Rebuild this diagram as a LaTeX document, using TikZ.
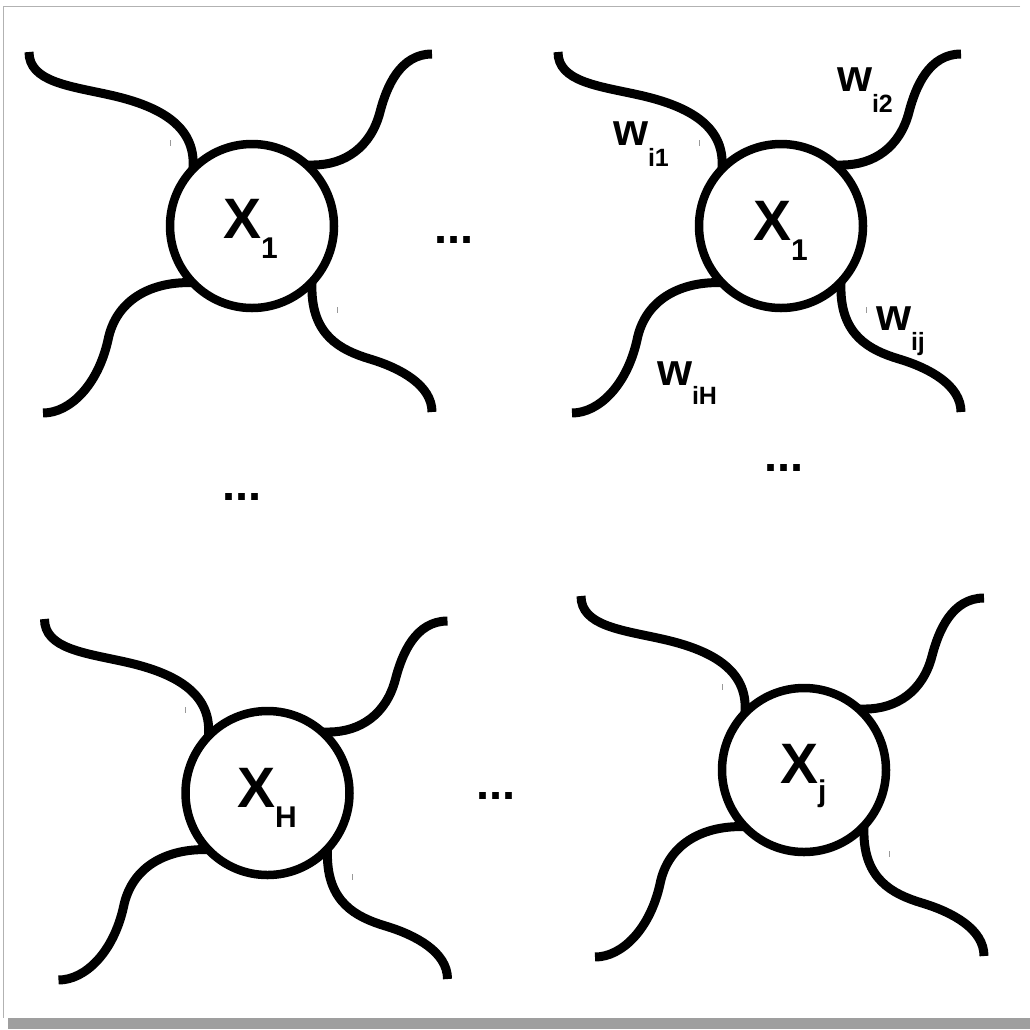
\documentclass[tikz,border=0pt]{standalone}
\usepackage{fontspec}
\setmainfont{Liberation Sans}
\usetikzlibrary{backgrounds}
\begin{document}
\begin{tikzpicture}[x=1pt,y=-1pt,
  wire/.style={line width=9pt},
  unit/.style={circle,draw,line width=8.5pt,fill=white,minimum size=164pt,inner sep=0pt},
  tickmark/.style={line width=1pt,draw=gray!80},
  lbl/.style={anchor=base west,inner sep=0pt,outer sep=0pt},
  big/.style={lbl,font=\bfseries\fontsize{57}{57}\selectfont},
  wt/.style={lbl,font=\bfseries\fontsize{45}{45}\selectfont},
  dots/.style={lbl,font=\bfseries\fontsize{47}{47}\selectfont},
]
\useasboundingbox (0,0) rectangle (1030,1029);
\begin{pgfonlayer}{background}
  \fill[white] (0,0) rectangle (1030,1029);
\end{pgfonlayer}
% frame with drop shadow
\fill[gray!75] (8,1018) rectangle (1030,1029);
\draw[gray!60,line width=1pt] (1020,6.5) -- (3.5,6.5) -- (3.5,1018);

% four units, each with four weighted connections
\foreach \n/\cx/\cy in {m1/252/226, m2/781/226, m3/267.5/793, m4/804/770} {
  \begin{scope}[shift={(\cx,\cy)}]
    \node[unit] (\n) at (0,0) {};
    \begin{pgfonlayer}{background}
      \draw[wire] ([yshift=-8pt]\n.133) -- (\n.133)
        .. controls (-59,-103) and (-97,-121) .. (-142,-131)
        .. controls (-182,-140) and (-223,-144) .. (-223,-174);
      \draw[wire] ([xshift=-8pt]\n.45) -- (\n.45)
        .. controls (93,-61) and (119,-79) .. (128,-114)
        .. controls (134.5,-139) and (148,-172) .. (180,-172);
      \draw[wire] ([xshift=8pt]\n.221) -- (\n.221)
        .. controls (-102,57) and (-136,74) .. (-144,114)
        .. controls (-154,159) and (-182,187) .. (-209,187);
      \draw[wire] ([yshift=8pt]\n.314) -- (\n.314)
        .. controls (60,109) and (88,124) .. (118,133)
        .. controls (148,142) and (180,159) .. (180,186);
    \end{pgfonlayer}
    \draw[tickmark] (-82,-86) -- (-82,-80);
    \draw[tickmark] (85,81) -- (85,87);
  \end{scope}
}

% unit labels
\node[big] (l1) at (223,238) {X\raisebox{-20pt}{\fontsize{30}{30}\selectfont 1}};
\node[big] (l2) at (753,240) {X\raisebox{-20pt}{\fontsize{30}{30}\selectfont 1}};
\node[big] (l3) at (237,807) {X\raisebox{-20pt}{\fontsize{30}{30}\selectfont H}};
\node[big] (l4) at (780,783) {X\raisebox{-18pt}{\fontsize{30}{30}\selectfont j}};

% weight labels
\node[wt] (w1) at (613,145) {w\raisebox{-21pt}{\fontsize{25}{25}\selectfont i1}};
\node[wt] (w2) at (837,91)  {w\raisebox{-21pt}{\fontsize{25}{25}\selectfont i2}};
\node[wt] (wj) at (876,330) {w\raisebox{-20pt}{\fontsize{25}{25}\selectfont ij}};
\node[wt] (wH) at (657,385) {w\raisebox{-19pt}{\fontsize{25}{25}\selectfont iH}};

% ellipses between units
\node[dots] (d1) at (434,243) {...};
\node[dots] (d2) at (222,500) {...};
\node[dots] (d3) at (764,471) {...};
\node[dots] (d4) at (476,799) {...};
\end{tikzpicture}
\end{document}
